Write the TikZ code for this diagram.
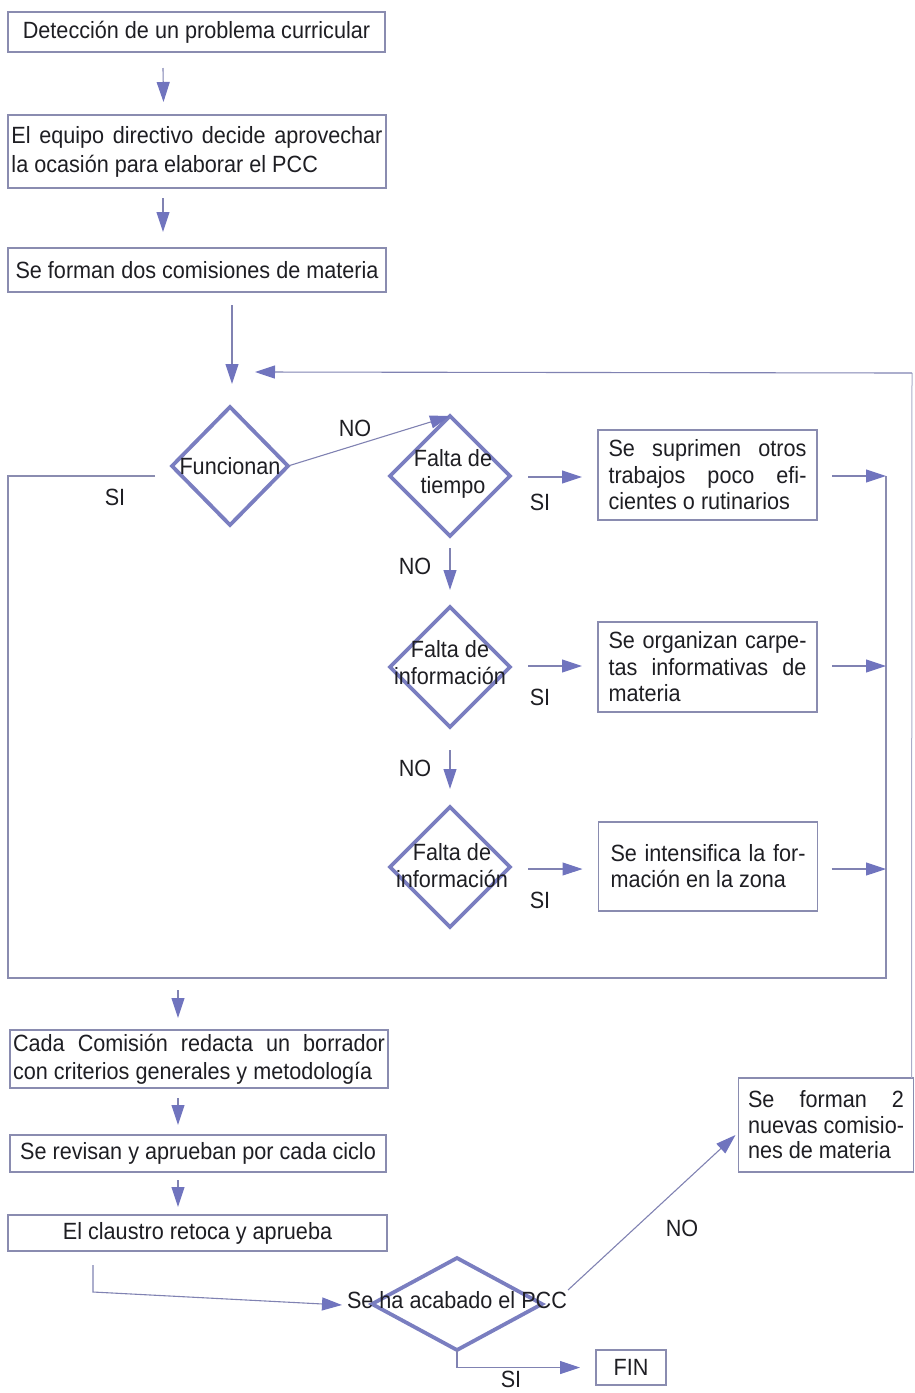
\documentclass[tikz,border=0pt]{standalone}
\usepackage{fontspec}
\setmainfont{Liberation Sans}[FakeStretch=0.92]
\usetikzlibrary{arrows.meta,shapes.geometric,calc}
\definecolor{ink}{RGB}{30,30,35}
\definecolor{flowline}{RGB}{128,130,178}
\definecolor{flowhead}{RGB}{112,116,190}
\definecolor{rhomb}{RGB}{122,126,192}
\definecolor{frame}{RGB}{138,140,176}
\definecolor{faint}{RGB}{170,172,200}
% a line of text stretched to a given width (justified line)
\newcommand\spread[2]{\makebox[#1][s]{#2}}

\begin{document}
\begin{tikzpicture}[x=1pt,y=-1pt,
  every node/.style={font=\fontsize{23.5}{29}\selectfont, text=ink, inner sep=0pt, outer sep=0pt},
  box/.style={draw=frame, line width=1.1pt, rectangle, align=left},
  sidebox/.style={box, minimum width=219pt, minimum height=90pt, font=\fontsize{23.5}{26.5}\selectfont},
  rhombus/.style={draw=rhomb, line width=3.8pt, diamond, minimum width=120pt, minimum height=120pt},
  rtext/.style={align=center, font=\fontsize{23.5}{27}\selectfont},
  arr/.style={draw=flowline, line width=1.1pt, -{Triangle[length=20pt,width=13pt,color=flowhead]}},
  bus/.style={draw=frame, line width=1.1pt},
]
\useasboundingbox (0,0) rectangle (914,1393);

% ---- opening steps ----
\node[box, minimum width=377pt, minimum height=40pt] (b1) at (196.5,32) {Detección de un problema curricular};
\node[box, minimum width=378pt, minimum height=73pt] (b2) at (197,151.5)
  {\spread{371pt}{El equipo directivo decide aprovechar}\\la ocasión para elaborar el PCC};
\node[box, minimum width=378pt, minimum height=44pt] (b3) at (197,270) {Se forman dos comisiones de materia};

\draw[arr] ($(b1.south)+(-33.5,16)$) -- ($(b2.north)+(-33.5,-13)$);
\draw[arr] ($(b2.south)+(-34,10)$) -- ($(b3.north)+(-34,-16)$);

% ---- decisions ----
\node[rhombus, minimum width=116pt, minimum height=118pt] (d1) at (230,466) {};
\node at (d1.center) {Funcionan};
\node[rhombus] (d2) at (450,476) {};
\node[rtext] at (453,474) {Falta de\\tiempo};
\node[rhombus] (d3) at (450,667) {};
\node[rtext] at (450,663) {Falta de\\información};
\node[rhombus] (d4) at (450,867) {};
\node[rtext] at (452,866) {Falta de\\información};

\draw[arr] ($(b3.south)+(35,13)$) -- ($(d1.north)+(2,-23)$);

% ---- remedies ----
\node[sidebox] (r1) at (707.5,475)
  {\spread{198pt}{Se suprimen otros}\\\spread{198pt}{trabajos poco efi-}\\cientes o rutinarios};
\node[sidebox] (r2) at (707.5,667)
  {\spread{198pt}{Se organizan carpe-}\\\spread{198pt}{tas informativas de}\\materia};
\node[sidebox, minimum height=89pt, font=\fontsize{23.5}{26}\selectfont] (r3) at (708,866.5)
  {\spread{195pt}{Se intensifica la for-}\\mación en la zona};

% collecting frame around the loop
\coordinate (lt) at (8,476);
\coordinate (lb) at (8,978);
\coordinate (rb) at (886,978);
\coordinate (rt) at (886,476);
\coordinate (rm) at (886,666);
\coordinate (rl) at (886,869);
\draw[bus] ($(d1.west)+(-17,10)$) -- (lt) -- (lb) -- (rb) -- (rt);
\node at (115,497) {SI};

\draw[arr] (d1.east) -- (d2.north);
\node at (355,428) {NO};

\draw[arr] ($(d2.east)+(18,1)$) -- ($(r1.west)+(-16,2)$);
\node at (540,502) {SI};
\draw[arr] ($(r1.east)+(15,1)$) -- (rt);

\draw[arr] ($(d2.south)+(0,12)$) -- ($(d3.north)+(0,-17)$);
\node at (415,566) {NO};
\draw[arr] ($(d3.east)+(18,-1)$) -- ($(r2.west)+(-16,-1)$);
\node at (540,697) {SI};
\draw[arr] ($(r2.east)+(15,-1)$) -- (rm);

\draw[arr] ($(d3.south)+(0,23)$) -- ($(d4.north)+(0,-18)$);
\node at (415,768) {NO};
\draw[arr] ($(d4.east)+(18,2)$) -- ($(r3.west)+(-16,2.5)$);
\node at (540,900) {SI};
\draw[arr] ($(r3.east)+(14,2.5)$) -- (rl);

% ---- closing steps ----
\node[box, minimum width=378pt, minimum height=58pt, font=\fontsize{23.5}{28}\selectfont] (b4) at (199,1059)
  {\spread{372pt}{Cada Comisión redacta un borrador}\\con criterios generales y metodología};
\node[box, minimum width=376pt, minimum height=37pt] (b5) at (198,1153.5) {Se revisan y aprueban por cada ciclo};
\node[box, minimum width=379pt, minimum height=36pt] (b6) at (197.5,1233) {El claustro retoca y aprueba};

\draw[arr] ($(lb)+(170,12)$) -- ($(b4.north)+(-21,-12)$);
\draw[arr] ($(b4.south)+(-21,10)$) -- ($(b5.north)+(-20,-10)$);
\draw[arr] ($(b5.south)+(-20,8)$) -- ($(b6.north)+(-19.5,-8)$);

\node[rhombus, minimum width=170pt, minimum height=92pt] (d5) at (457,1304) {};
\node at (457,1300) {Se ha acabado el PCC};

\draw[arr] ($(b6.south west)+(85,14)$) -- ++(0,27) -- ($(d5.west)+(-30,1)$);

\node[box, minimum width=175pt, minimum height=94pt, font=\fontsize{23.5}{25.5}\selectfont] (b7) at (826,1125)
  {\spread{156pt}{Se forman 2}\\\spread{156pt}{nuevas comisio-}\\nes de materia};
\draw[arr] ($(d5.east)+(26,-14)$) -- ($(b7.west)+(-3,10)$);
\node at (682,1228) {NO};

\node[box, minimum width=70pt, minimum height=35pt] (fin) at (631,1367.5) {FIN};
\draw[arr] (d5.south) |- ($(fin.west)+(-16,0)$);
\node at (511,1379) {SI};

% return path to the first decision
\coordinate (up) at (912,373);
\draw[faint, line width=1pt] ($(b7.north east)+(-2,0)$) -- (up);
\draw[arr] (up) -- ($(d1.north)+(25,-35)$);
\end{tikzpicture}
\end{document}
